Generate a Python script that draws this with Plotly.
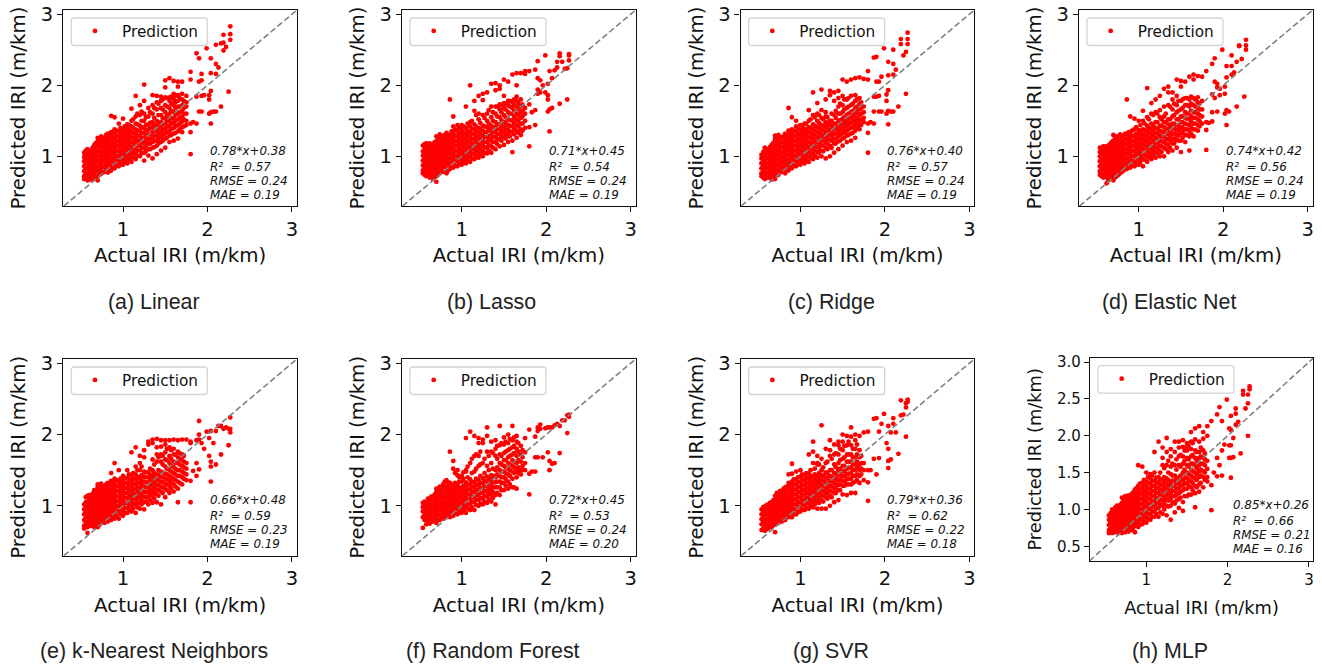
import plotly.graph_objects as go

# Actual IRI values (m/km), one entry per column of the scatter
actual = [0.54,0.58,0.62,0.66,0.70,0.74,0.78,0.82,0.86,0.90,0.95,1.00,1.05,1.10,1.15,1.20,1.25,1.30,1.35,1.40,1.45,1.50,1.55,1.60,1.65,1.70,1.75,
          1.80,1.83,1.87,1.90,1.93,1.96,1.99,2.02,2.04,2.07,2.10,2.13,2.16,2.19,2.22,2.25,2.27]
actual_dense = [0.56,0.60,0.64,0.68,0.72,0.76,0.80,0.84,0.88,0.92,0.97,1.02,1.07,1.12,1.17,1.22,1.27,1.32,1.37,1.42,1.47,1.52,1.57,1.62,1.67,1.72]

pred_linear = [
 [.68,.72,.79,.86,.93,.99,1.05],[.66,.70,.76,.83,.90,.97,1.04,1.10],[.67,.73,.80,.87,.94,1.01,1.08],[.68,.75,.82,.89,.96,1.03,1.10,1.16],
 [.66,.72,.79,.86,.93,1.00,1.07,1.14,1.21,1.26],[.75,.82,.89,.96,1.03,1.10,1.17,1.24,1.28],[.78,.85,.92,.99,1.06,1.13,1.20,1.26],[.77,.83,.90,.97,1.04,1.11,1.18,1.25,1.32],
 [.80,.87,.94,1.01,1.08,1.15,1.22,1.29,1.34,1.57],[.83,.90,.97,1.04,1.11,1.18,1.25,1.32,1.38,1.55],[.86,.93,1.00,1.07,1.14,1.21,1.28,1.35,1.46],[.88,.95,1.02,1.09,1.16,1.23,1.30,1.37,1.53],
 [.90,.97,1.04,1.11,1.18,1.25,1.32,1.39,1.45],[.92,.99,1.06,1.13,1.20,1.27,1.34,1.42,1.50,1.67],[.96,1.03,1.10,1.17,1.24,1.31,1.38,1.46,1.56,1.85],[1.00,1.08,1.15,1.22,1.29,1.36,1.43,1.58,1.72],
 [.94,1.05,1.12,1.19,1.26,1.33,1.40,1.50,1.60,2.01,1.78],[1.01,1.10,1.17,1.24,1.31,1.38,1.45,1.56,1.68],[.97,1.12,1.20,1.27,1.34,1.41,1.48,1.60,1.86,1.72],[1.03,1.15,1.22,1.29,1.36,1.43,1.50,1.66,1.76,1.85],
 [1.08,1.20,1.27,1.34,1.41,1.48,1.58,1.68,1.78,1.84],[1.12,1.25,1.32,1.39,1.46,1.53,1.62,1.72,1.83,2.07,1.97],[1.20,1.29,1.36,1.43,1.50,1.60,1.68,1.78,1.83,2.10],[1.22,1.32,1.40,1.47,1.54,1.62,1.72,1.80,1.88,2.06],
 [1.25,1.35,1.44,1.52,1.60,1.70,1.78,1.86,2.05,1.98],[1.34,1.41,1.49,1.56,1.64,1.72,1.80,1.88,2.05],[1.44,1.50,1.60,1.70,1.76,1.85],
 [1.03,1.34,1.46,2.08,2.19],[1.48],[1.46,1.84,2.45],[1.63,2.05,2.38],[1.63,1.85,2.07,2.16],[1.86],[2.52],[1.60,1.80,1.86],[1.46,1.62,1.92,2.17,2.38],[1.63],[1.63,2.16,2.30,2.57],[2.25],[1.70,2.59],[2.49,2.60,2.71],[2.54],[1.91],[2.64,2.72,2.83]]
dense_linear = [
 [.70,.75,.83,.90,.96,1.02,1.08],[.68,.73,.79,.85,.92,.99,1.06],[.71,.77,.84,.91,.98,1.05,1.12],[.72,.79,.85,.92,.99,1.06,1.13,1.19],[.74,.80,.87,.94,1.01,1.08,1.15,1.22],[.77,.85,.92,.98,1.05,1.12,1.19,1.26],
 [.81,.88,.95,1.02,1.09,1.16,1.23,1.30],[.79,.86,.93,1.00,1.07,1.14,1.21,1.28],[.84,.91,.98,1.05,1.12,1.19,1.26,1.33],[.87,.94,1.01,1.08,1.15,1.22,1.29,1.36],[.90,.97,1.04,1.11,1.18,1.25,1.32,1.40],[.93,1.00,1.07,1.14,1.21,1.28,1.35,1.42],
 [.95,1.02,1.09,1.16,1.23,1.30,1.37,1.44],[.98,1.05,1.12,1.19,1.26,1.33,1.40,1.52],[1.01,1.08,1.15,1.22,1.29,1.36,1.45,1.60],[1.04,1.12,1.19,1.26,1.33,1.41,1.50,1.63],[1.07,1.15,1.22,1.29,1.36,1.44,1.55],[1.10,1.18,1.25,1.32,1.40,1.47,1.62],
 [1.13,1.22,1.29,1.36,1.44,1.54,1.68],[1.18,1.25,1.32,1.39,1.47,1.58,1.74],[1.22,1.30,1.37,1.45,1.54,1.66,1.80],[1.26,1.34,1.42,1.50,1.57,1.70,1.82],[1.30,1.38,1.46,1.53,1.64,1.74,1.84],[1.33,1.42,1.50,1.58,1.68,1.76,1.85],[1.38,1.46,1.54,1.62,1.70,1.82],[1.42,1.52,1.60,1.68,1.78]]

pred_lasso = [
 [.76,.80,.87,.94,1.01,1.07,1.15],[.72,.78,.85,.92,.99,1.06,1.13,1.18],[.70,.77,.84,.91,.98,1.05,1.12,1.18],[.68,.75,.82,.89,.96,1.03,1.10,1.17],
 [.64,.72,.79,.86,.93,1.00,1.07,1.14,1.21,1.28],[.76,.83,.90,.97,1.04,1.11,1.18,1.25,1.31],[.78,.85,.92,.99,1.06,1.13,1.20,1.27],[.76,.84,.91,.98,1.05,1.12,1.19,1.26,1.33],
 [.82,.89,.96,1.03,1.10,1.17,1.24,1.30,1.80],[.84,.91,.98,1.05,1.12,1.19,1.26,1.33,1.42,1.56],[.86,.93,1.00,1.07,1.14,1.21,1.28,1.35,1.44],[.88,.95,1.02,1.09,1.16,1.23,1.30,1.37,1.44],
 [.90,.97,1.04,1.11,1.18,1.25,1.32,1.40,1.70],[.92,.99,1.06,1.13,1.20,1.27,1.34,1.42,1.48,2.00],[.96,1.03,1.10,1.17,1.24,1.31,1.38,1.45,1.64,1.78],[.98,1.05,1.12,1.19,1.26,1.33,1.40,1.52,1.60,1.85],
 [1.00,1.08,1.15,1.22,1.29,1.36,1.43,1.58,1.79,1.88],[1.04,1.12,1.20,1.27,1.34,1.41,1.50,1.60,1.90],[1.05,1.14,1.22,1.29,1.36,1.43,1.55,1.70,2.02],[1.10,1.20,1.27,1.34,1.41,1.48,1.60,1.70,1.93,2.03],
 [1.14,1.24,1.31,1.38,1.45,1.55,1.66,1.73,1.95,2.00],[1.16,1.27,1.34,1.41,1.48,1.58,1.68,1.75,1.85,2.08],[1.20,1.30,1.37,1.44,1.52,1.62,1.72,1.78,2.05],[1.06,1.22,1.34,1.42,1.50,1.60,1.68,1.76,2.15],
 [1.26,1.36,1.44,1.52,1.60,1.70,1.78,1.84,2.00,2.17],[1.30,1.38,1.46,1.54,1.62,1.70,1.80,2.17],[1.40,1.50,1.60,1.68,2.16,2.20],
 [1.14,1.41,1.73,2.20],[1.62],[1.44,1.65,2.22],[1.88,1.94,2.10,2.34],[1.90,2.07],[2.00],[2.42,1.90],[1.63,1.80,1.86,2.02],[1.35,1.66,2.20],[1.68,2.10],[2.21],[2.25,2.33],[1.74,2.45,2.41],[2.33],[2.23],[1.80,2.24],[2.35,2.42,2.44]]
dense_lasso = [
 [.74,.83,.90,.97,1.04,1.10,1.17],[.75,.81,.88,.95,1.02,1.09,1.16],[.73,.80,.87,.94,1.01,1.08,1.15],[.71,.78,.85,.92,.99,1.06,1.13,1.20],[.74,.81,.88,.95,1.02,1.09,1.16,1.24],[.80,.87,.94,1.01,1.08,1.15,1.22,1.29],
 [.78,.87,.94,1.01,1.08,1.15,1.22,1.30],[.80,.88,.95,1.02,1.09,1.16,1.23,1.29],[.85,.92,.99,1.06,1.13,1.20,1.27,1.35],[.87,.94,1.01,1.08,1.15,1.22,1.29,1.38],[.90,.97,1.04,1.11,1.18,1.25,1.32,1.40],[.92,.99,1.06,1.13,1.20,1.27,1.34,1.42],
 [.94,1.01,1.08,1.15,1.22,1.29,1.36,1.46],[.97,1.04,1.11,1.18,1.25,1.32,1.39,1.50],[1.00,1.07,1.14,1.21,1.28,1.35,1.42,1.58],[1.03,1.10,1.17,1.24,1.31,1.38,1.47],[1.05,1.13,1.20,1.27,1.34,1.42,1.54],[1.08,1.16,1.24,1.31,1.38,1.46,1.65],
 [1.12,1.20,1.27,1.34,1.41,1.50,1.62],[1.17,1.24,1.31,1.38,1.45,1.56,1.70],[1.22,1.29,1.36,1.43,1.51,1.62,1.72],[1.25,1.32,1.39,1.47,1.55,1.66,1.74],[1.28,1.35,1.43,1.51,1.60,1.70,1.78],[1.31,1.39,1.47,1.55,1.64,1.72,1.80],[1.33,1.42,1.50,1.58,1.66,1.75],[1.36,1.46,1.56,1.64,1.73]]

pred_ridge = [
 [.72,.76,.83,.90,.97,1.02],[.68,.74,.81,.88,.95,1.02,1.09,1.12],[.70,.76,.83,.90,.97,1.04,1.10],[.67,.74,.81,.88,.95,1.02,1.09,1.16],
 [.68,.75,.82,.89,.96,1.03,1.10,1.17,1.24,1.29],[.74,.81,.88,.95,1.02,1.09,1.16,1.23,1.30],[.78,.85,.92,.99,1.06,1.13,1.20,1.27],[.76,.83,.90,.97,1.04,1.11,1.18,1.25,1.32],
 [.80,.87,.94,1.01,1.08,1.15,1.22,1.29,1.36,1.68],[.83,.90,.97,1.04,1.11,1.18,1.25,1.32,1.38,1.55],[.86,.93,1.00,1.07,1.14,1.21,1.28,1.35,1.42,1.50],[.88,.95,1.02,1.09,1.16,1.23,1.30,1.37,1.44],
 [.90,.97,1.04,1.11,1.18,1.25,1.32,1.39,1.46],[.92,.99,1.06,1.13,1.20,1.27,1.34,1.41,1.50,1.65],[.96,1.03,1.10,1.17,1.24,1.31,1.38,1.45,1.58,1.90],[.98,1.06,1.13,1.20,1.27,1.34,1.41,1.50,1.60,1.75],
 [1.00,1.08,1.16,1.23,1.30,1.37,1.44,1.54,1.65,1.94],[.97,1.12,1.20,1.27,1.34,1.41,1.48,1.56,1.62,1.80],[1.00,1.15,1.23,1.30,1.37,1.44,1.50,1.86,1.92],[1.05,1.18,1.25,1.32,1.39,1.46,1.58,1.78,1.90],
 [1.10,1.21,1.28,1.35,1.42,1.49,1.60,1.70,1.82,1.92],[1.15,1.25,1.32,1.39,1.46,1.53,1.62,1.72,1.85,2.08],[1.20,1.29,1.36,1.43,1.50,1.58,1.68,1.80,2.05],[1.22,1.32,1.40,1.47,1.54,1.62,1.72,1.85,2.08],
 [1.26,1.36,1.44,1.52,1.60,1.68,1.78,1.86,2.10],[1.38,1.44,1.50,1.58,1.66,1.74,1.82,2.11],[1.48,1.54,1.62,1.70,2.09],
 [1.05,1.33,1.46,2.08,2.20],[1.48],[1.46,1.63,1.84,2.39],[2.40,1.84,2.05],[1.63,1.85,2.05],[1.63,2.12],[2.52],[1.60,1.78,1.87],[1.45,1.64,1.93,2.14,2.33],[1.63],[1.63,2.15,2.30,2.50],[2.22],[1.70],[2.58,2.65],[2.42],[1.88,2.47],[2.58,2.65,2.74]]
dense_ridge = [
 [.70,.79,.86,.93,1.00,1.06],[.70,.77,.84,.91,.98,1.05,1.10],[.72,.79,.86,.93,1.00,1.07,1.13],[.71,.78,.85,.92,.99,1.06,1.13,1.19],[.73,.80,.87,.94,1.01,1.08,1.15,1.22,1.27],[.77,.84,.91,.98,1.05,1.12,1.19,1.26],
 [.79,.86,.93,1.00,1.07,1.14,1.21,1.28],[.81,.88,.95,1.02,1.09,1.16,1.23,1.30],[.84,.91,.98,1.05,1.12,1.19,1.26,1.33],[.87,.94,1.01,1.08,1.15,1.22,1.29,1.36],[.90,.97,1.04,1.11,1.18,1.25,1.32,1.39],[.93,1.00,1.07,1.14,1.21,1.28,1.35,1.43],
 [.95,1.02,1.09,1.16,1.23,1.30,1.37,1.46],[.98,1.05,1.12,1.19,1.26,1.33,1.40,1.52],[1.01,1.08,1.15,1.22,1.29,1.36,1.43,1.55],[1.05,1.12,1.19,1.26,1.33,1.40,1.47,1.58],[1.07,1.15,1.22,1.29,1.36,1.43,1.52],[1.10,1.18,1.25,1.32,1.39,1.46,1.55],
 [1.12,1.22,1.29,1.36,1.43,1.50,1.60],[1.18,1.25,1.32,1.39,1.46,1.54,1.64],[1.22,1.30,1.37,1.44,1.51,1.60,1.74],[1.26,1.34,1.41,1.48,1.55,1.66,1.80],[1.30,1.38,1.45,1.52,1.60,1.70,1.82],[1.33,1.41,1.49,1.56,1.64,1.74],[1.40,1.47,1.54,1.62,1.70,1.80],[1.44,1.52,1.60,1.68,1.76]]

pred_elastic = [
 [.74,.79,.86,.93,1.00,1.06,1.12],[.70,.76,.83,.90,.97,1.04,1.10,1.14],[.62,.70,.77,.84,.91,.98,1.05,1.12],[.68,.75,.82,.89,.96,1.03,1.10,1.17],
 [.66,.73,.80,.87,.94,1.01,1.08,1.15,1.22,1.30],[.72,.79,.86,.93,1.00,1.07,1.14,1.21,1.28],[.76,.83,.90,.97,1.04,1.11,1.18,1.25,1.31],[.80,.87,.94,1.01,1.08,1.15,1.22,1.29],
 [.82,.89,.96,1.03,1.10,1.17,1.24,1.31,1.80],[.84,.91,.98,1.05,1.12,1.19,1.26,1.33,1.56],[.86,.93,1.00,1.07,1.14,1.21,1.28,1.38,1.53],[.88,.95,1.02,1.09,1.16,1.23,1.30,1.37,1.50],
 [.86,.96,1.03,1.10,1.17,1.24,1.31,1.38,1.50,1.64],[.92,1.00,1.07,1.14,1.21,1.28,1.35,1.43,1.55,1.96],[.96,1.03,1.10,1.17,1.24,1.31,1.38,1.46,1.60,1.75],[.98,1.05,1.12,1.19,1.26,1.33,1.40,1.48,1.62,1.80],
 [1.00,1.08,1.15,1.22,1.29,1.36,1.43,1.55,1.65,1.85],[1.00,1.12,1.20,1.27,1.34,1.41,1.48,1.56,1.70,1.95],[1.06,1.16,1.24,1.31,1.38,1.45,1.52,1.72,1.90,1.98],[1.08,1.18,1.25,1.32,1.39,1.46,1.56,1.66,1.80,1.90],
 [1.12,1.23,1.30,1.37,1.44,1.52,1.62,1.72,1.85,2.08],[1.06,1.22,1.32,1.40,1.48,1.56,1.66,1.78,1.98,2.06],[1.20,1.30,1.38,1.46,1.54,1.62,1.72,1.82,2.05],[1.08,1.28,1.36,1.44,1.52,1.60,1.70,1.80,2.12],
 [1.28,1.38,1.46,1.54,1.62,1.72,1.82,2.08,2.15],[1.36,1.44,1.52,1.60,1.68,1.76,1.83,2.13],[1.46,1.56,1.66,1.78,2.12],
 [1.09,1.37,1.48,2.20],[1.47],[1.49,1.62,1.87,2.30],[1.82,2.05,2.38],[1.63,1.97,2.02],[1.86,1.95],[2.50],[1.60,1.88,1.98],[1.44,1.65,2.11,2.27],[1.63],[2.42,2.27,2.15],[2.18],[1.70,2.33],[2.55,2.56],[2.37],[1.84],[2.50,2.56,2.64]]
dense_elastic = [
 [.72,.82,.89,.96,1.03,1.09],[.73,.80,.87,.94,1.01,1.08,1.14],[.66,.73,.80,.87,.94,1.01,1.08,1.15],[.71,.78,.85,.92,.99,1.06,1.13,1.20],[.70,.77,.84,.91,.98,1.05,1.12,1.19,1.26],[.74,.81,.88,.95,1.02,1.09,1.16,1.24],
 [.78,.85,.92,.99,1.06,1.13,1.20,1.28],[.82,.89,.96,1.03,1.10,1.17,1.24,1.32],[.85,.92,.99,1.06,1.13,1.20,1.27,1.34],[.87,.94,1.01,1.08,1.15,1.22,1.29,1.36],[.90,.97,1.04,1.11,1.18,1.25,1.32,1.41],[.92,.99,1.06,1.13,1.20,1.27,1.34,1.44],
 [.95,1.02,1.09,1.16,1.23,1.30,1.37,1.46],[.98,1.05,1.12,1.19,1.26,1.33,1.40,1.52],[1.01,1.08,1.15,1.22,1.29,1.36,1.43,1.58],[1.04,1.11,1.18,1.25,1.32,1.39,1.48,1.60],[1.06,1.14,1.21,1.28,1.35,1.43,1.52],[1.10,1.18,1.25,1.32,1.39,1.48,1.60],
 [1.12,1.22,1.29,1.36,1.43,1.52,1.70],[1.18,1.25,1.32,1.39,1.46,1.58,1.74],[1.22,1.29,1.36,1.43,1.52,1.64,1.78],[1.26,1.34,1.41,1.48,1.56,1.68,1.80],[1.30,1.38,1.45,1.53,1.60,1.72,1.82],[1.32,1.41,1.49,1.56,1.64,1.74,1.84],[1.38,1.46,1.54,1.62,1.70,1.80],[1.42,1.50,1.58,1.66,1.74]]

pred_knn = [
 [.68,.72,.80,.88,.95,1.02],[.62,.70,.77,.84,.91,.98,1.05,1.14],[.72,.79,.86,.93,1.00,1.07,1.14],[.70,.77,.84,.91,.98,1.05,1.12,1.22],
 [.70,.77,.84,.91,.98,1.05,1.12,1.19,1.26,1.30],[.76,.83,.90,.97,1.04,1.11,1.18,1.25,1.31],[.76,.83,.90,.97,1.04,1.11,1.18,1.25,1.28],[.78,.85,.92,.99,1.06,1.13,1.20,1.27,1.32],
 [.80,.87,.94,1.01,1.08,1.15,1.22,1.29,1.35,1.46],[.82,.89,.96,1.03,1.10,1.17,1.24,1.31,1.38,1.60],[.82,.92,.99,1.06,1.13,1.20,1.27,1.34,1.50],[.86,.93,1.00,1.07,1.14,1.21,1.28,1.35,1.42],
 [.90,.97,1.04,1.11,1.18,1.25,1.32,1.39,1.50],[.92,.99,1.06,1.13,1.20,1.27,1.34,1.41,1.75],[.90,1.02,1.09,1.16,1.23,1.30,1.37,1.44,1.55,1.82],[.96,1.04,1.11,1.18,1.25,1.32,1.39,1.50,1.70,1.60],
 [.95,1.05,1.13,1.20,1.27,1.34,1.41,1.48,1.68,1.78],[1.02,1.12,1.19,1.26,1.33,1.40,1.47,1.90,1.86],[1.04,1.14,1.21,1.28,1.35,1.42,1.50,1.65,1.93,1.88],[1.05,1.16,1.23,1.30,1.37,1.44,1.62,1.72,1.94,1.82],
 [1.02,1.20,1.27,1.34,1.41,1.48,1.62,1.72,1.92,1.83],[1.12,1.24,1.31,1.38,1.45,1.55,1.65,1.75,1.86,1.92],[1.18,1.28,1.35,1.42,1.50,1.60,1.70,1.82,1.92],[1.20,1.30,1.38,1.46,1.54,1.62,1.72,1.80,1.93],
 [1.05,1.24,1.34,1.42,1.50,1.60,1.68,1.76,1.92],[1.30,1.40,1.48,1.56,1.64,1.72,1.93],[1.36,1.44,1.52,1.60,1.93],
 [1.05,1.35,1.88,1.90],[1.49],[1.42,1.60,1.92],[1.51,1.93,2.00,2.19],[1.88],[1.80],[2.04],[1.70,1.95],[1.34,1.55,1.62,2.05],[1.88],[1.58,2.05],[2.12],[1.72,2.12],[2.08],[2.10],[1.85,2.08],[2.03,2.08,2.24]]
dense_knn = [
 [.70,.76,.84,.91,.98,1.05,1.12],[.74,.81,.88,.95,1.02,1.09,1.15],[.75,.82,.89,.96,1.03,1.10,1.17],[.73,.80,.87,.94,1.01,1.08,1.15,1.21],[.73,.80,.87,.94,1.01,1.08,1.15,1.22,1.28],[.79,.86,.93,1.00,1.07,1.14,1.21,1.27],
 [.80,.87,.94,1.01,1.08,1.15,1.22,1.30],[.81,.88,.95,1.02,1.09,1.16,1.23,1.31],[.84,.91,.98,1.05,1.12,1.19,1.26,1.33],[.86,.93,1.00,1.07,1.14,1.21,1.28,1.36],[.88,.96,1.03,1.10,1.17,1.24,1.31,1.38],[.90,.97,1.04,1.11,1.18,1.25,1.32,1.39],
 [.94,1.01,1.08,1.15,1.22,1.29,1.36,1.44],[.96,1.03,1.10,1.17,1.24,1.31,1.38,1.46],[.98,1.05,1.12,1.19,1.26,1.33,1.41,1.50],[1.02,1.08,1.15,1.22,1.29,1.36,1.43,1.55],[1.06,1.12,1.19,1.26,1.33,1.40,1.47],[1.08,1.16,1.23,1.30,1.37,1.44,1.52],
 [1.10,1.18,1.25,1.32,1.39,1.46,1.58],[1.14,1.22,1.29,1.36,1.43,1.50,1.68],[1.18,1.26,1.33,1.40,1.47,1.58,1.70],[1.22,1.30,1.37,1.44,1.52,1.64,1.80],[1.24,1.33,1.40,1.48,1.56,1.66,1.78],[1.27,1.36,1.44,1.52,1.60,1.72],[1.32,1.42,1.50,1.58,1.66,1.74],[1.38,1.46,1.54,1.62,1.70]]

pred_rf = [
 [.69,.84,.92,.98,1.04],[.74,.81,.88,.95,1.02],[.75,.82,.89,.96,1.03,1.10],[.78,.85,.92,.99,1.06,1.13],
 [.76,.84,.91,.98,1.05,1.12,1.19,1.24],[.80,.87,.94,1.01,1.08,1.15,1.22,1.27],[.82,.89,.96,1.03,1.10,1.17,1.24,1.30],[.84,.91,.98,1.05,1.12,1.19,1.26,1.36],
 [.84,.92,.99,1.06,1.13,1.20,1.27,1.32,1.76],[.86,.93,1.00,1.07,1.14,1.21,1.28,1.52,1.63],[.88,.95,1.02,1.09,1.16,1.23,1.30,1.50,1.43],[.90,.97,1.04,1.11,1.18,1.25,1.42,1.34],
 [.90,.98,1.05,1.12,1.19,1.26,1.33,1.50,1.48,1.95],[.94,1.02,1.09,1.16,1.23,1.30,1.37,1.60,2.04],[.94,1.05,1.12,1.19,1.26,1.33,1.48,1.70,1.98],[1.00,1.08,1.15,1.22,1.29,1.36,1.56,1.70,1.88,1.95],
 [1.02,1.10,1.18,1.25,1.32,1.39,1.60,1.88,1.93],[1.04,1.13,1.20,1.27,1.34,1.41,1.56,1.76,2.10,1.98],[1.06,1.15,1.22,1.29,1.36,1.43,1.60,1.76,1.90],[1.02,1.15,1.26,1.33,1.40,1.50,1.70,1.80,1.92],
 [1.15,1.26,1.34,1.42,1.50,1.60,1.72,1.85,2.12],[1.22,1.32,1.40,1.48,1.56,1.64,1.74,1.86,1.96],[1.24,1.34,1.44,1.52,1.60,1.68,1.78,1.88,2.00],[1.26,1.38,1.48,1.56,1.64,1.72,1.82,1.92,2.12],
 [1.24,1.40,1.50,1.60,1.70,1.80,1.90,1.98],[1.44,1.50,1.62,1.72,1.84],[1.50,1.60,1.75,1.95],
 [1.16,1.45,2.07],[1.48],[1.48,1.68,1.97],[1.68,2.05,2.10],[2.14,2.08],[1.68],[2.09],[1.75,2.10],[1.50,1.63,2.10],[1.59,2.10],[1.60,2.13],[2.15],[1.74,2.12],[2.20],[2.20],[2.02,2.27],[2.28,2.25]]
dense_rf = [
 [.80,.87,.94,1.00,1.06],[.78,.84,.91,.98,1.05,1.10],[.79,.86,.93,1.00,1.07,1.13],[.81,.88,.95,1.02,1.09,1.16],[.80,.87,.94,1.01,1.08,1.15,1.22],[.83,.90,.97,1.04,1.11,1.18,1.25],
 [.85,.92,.99,1.06,1.13,1.20,1.27,1.34],[.87,.94,1.01,1.08,1.15,1.22,1.29,1.33],[.89,.96,1.03,1.10,1.17,1.24,1.30],[.89,.97,1.04,1.11,1.18,1.25,1.32,1.46],[.91,.98,1.05,1.12,1.19,1.26,1.34,1.40],[.93,1.00,1.07,1.14,1.21,1.28,1.38,1.47],
 [.96,1.02,1.09,1.16,1.23,1.30,1.40,1.55],[.98,1.06,1.13,1.20,1.27,1.34,1.46,1.66],[1.01,1.09,1.16,1.23,1.30,1.38,1.52,1.72],[1.03,1.11,1.18,1.25,1.32,1.42,1.58,1.76],[1.06,1.14,1.21,1.28,1.35,1.46,1.66],[1.09,1.17,1.24,1.31,1.38,1.50,1.70],
 [1.11,1.19,1.26,1.33,1.42,1.52,1.74],[1.18,1.26,1.34,1.44,1.54,1.66,1.84],[1.22,1.32,1.40,1.48,1.58,1.70,1.88],[1.28,1.38,1.46,1.54,1.64,1.76,1.90],[1.30,1.42,1.50,1.58,1.70,1.80,1.94],[1.26,1.46,1.54,1.62,1.74,1.84,1.96],[1.46,1.54,1.64,1.76,1.88],[1.50,1.56,1.68,1.78]]

pred_svr = [
 [.66,.74,.81,.88,.95],[.65,.71,.78,.85,.92,.99],[.68,.74,.81,.88,.95,1.02],[.70,.77,.84,.91,.98,1.05],
 [.63,.74,.81,.88,.95,1.02,1.09,1.14],[.76,.83,.90,.97,1.04,1.11,1.18],[.78,.85,.92,.99,1.06,1.13,1.20],[.80,.87,.94,1.01,1.08,1.15,1.22,1.26],
 [.84,.91,.98,1.05,1.12,1.19,1.26,1.32,1.44],[.84,.92,.99,1.06,1.13,1.20,1.27,1.34,1.59,1.45],[.88,.95,1.02,1.09,1.16,1.23,1.30,1.37,1.48],[.92,.99,1.06,1.13,1.20,1.27,1.34,1.41,1.50],
 [.94,1.01,1.08,1.15,1.22,1.29,1.36,1.43],[.96,1.03,1.10,1.17,1.24,1.31,1.38,1.72,1.45],[.98,1.05,1.12,1.19,1.26,1.33,1.40,1.60,1.90,1.76],[.96,1.06,1.13,1.20,1.27,1.34,1.41,1.58,1.70,1.60],
 [.96,1.08,1.15,1.22,1.29,1.36,1.43,1.50,1.66,2.13],[.96,1.12,1.19,1.26,1.33,1.40,1.47,1.60,1.80],[1.00,1.14,1.21,1.28,1.35,1.42,1.50,1.70,1.92,1.78],[1.05,1.18,1.25,1.32,1.39,1.46,1.58,1.72,1.86],
 [1.08,1.22,1.29,1.36,1.43,1.50,1.60,1.72,1.85,1.90],[1.16,1.28,1.35,1.42,1.49,1.56,1.66,1.78,1.90,2.00],[1.15,1.30,1.37,1.44,1.52,1.62,1.72,1.85,1.98],[1.18,1.30,1.38,1.46,1.54,1.62,1.72,1.85,2.10,1.97],
 [1.18,1.34,1.42,1.50,1.58,1.68,1.80,1.92,2.00],[1.32,1.42,1.50,1.58,1.68,1.78,1.98],[1.36,1.50,1.60,2.03],
 [1.07,1.33,1.50,2.04],[1.50],[1.66,2.22],[1.44,2.23],[2.04,1.67],[2.15],[2.29],[1.88],[1.53,1.63,1.80,2.12],[1.65,2.03],[2.15,2.23],[2.03],[1.73],[2.27,2.48],[2.28],[1.97,2.38,2.44],[2.46,2.49]]
dense_svr = [
 [.68,.77,.84,.91,.98],[.67,.74,.81,.88,.95,1.01],[.71,.78,.85,.92,.99,1.04],[.73,.80,.87,.94,1.01,1.08],[.77,.84,.91,.98,1.05,1.12,1.18],[.79,.86,.93,1.00,1.07,1.14,1.21],
 [.82,.89,.96,1.03,1.10,1.17,1.24],[.85,.92,.99,1.06,1.13,1.20,1.27],[.87,.94,1.01,1.08,1.15,1.22,1.29],[.88,.95,1.02,1.09,1.16,1.23,1.30,1.37],[.91,.98,1.05,1.12,1.19,1.26,1.33,1.40],[.95,1.02,1.09,1.16,1.23,1.30,1.37,1.44],
 [.97,1.04,1.11,1.18,1.25,1.32,1.39,1.46],[1.00,1.07,1.14,1.21,1.28,1.35,1.42,1.50],[1.02,1.09,1.16,1.23,1.30,1.37,1.44,1.52],[1.04,1.11,1.18,1.25,1.32,1.39,1.46,1.58],[1.06,1.14,1.21,1.28,1.35,1.42,1.54],[1.10,1.18,1.25,1.32,1.39,1.46,1.62],
 [1.12,1.20,1.27,1.34,1.41,1.50,1.66],[1.18,1.24,1.31,1.38,1.45,1.54,1.74],[1.22,1.30,1.37,1.44,1.52,1.64,1.80],[1.28,1.34,1.41,1.48,1.56,1.68,1.84],[1.30,1.38,1.45,1.53,1.62,1.72,1.90],[1.32,1.42,1.50,1.58,1.68,1.80],[1.36,1.44,1.54,1.62,1.72,1.86],[1.44,1.52,1.60,1.70]]

pred_mlp = [
 [.68,.72,.79,.86,.92],[.68,.74,.81,.88,.95,1.00],[.69,.76,.83,.90,.97,1.03],[.68,.75,.82,.89,.96,1.02],
 [.68,.74,.81,.88,.95,1.02,1.09,1.16],[.69,.76,.83,.90,.97,1.04,1.11,1.18],[.70,.77,.84,.91,.98,1.05,1.12,1.19],[.72,.79,.86,.93,1.00,1.07,1.14,1.21],
 [.69,.78,.85,.92,.99,1.06,1.13,1.20,1.27],[.76,.83,.90,.97,1.04,1.11,1.18,1.25,1.60,1.32],[.80,.87,.94,1.01,1.08,1.15,1.22,1.29,1.36,1.58],[.82,.89,.96,1.03,1.10,1.17,1.24,1.31,1.38,1.50],
 [.86,.93,1.00,1.07,1.14,1.21,1.28,1.35,1.42,1.48],[.90,.97,1.04,1.11,1.18,1.25,1.32,1.39,1.78,1.50],[.90,1.02,1.09,1.16,1.23,1.30,1.37,1.44,1.92],[.94,1.05,1.12,1.19,1.26,1.33,1.40,1.60,1.84,1.70],
 [.92,1.05,1.14,1.21,1.28,1.35,1.42,1.60,1.78,1.97],[.86,1.05,1.15,1.22,1.29,1.36,1.48,1.58,1.72,1.82],[.96,1.08,1.18,1.25,1.32,1.39,1.46,1.60,1.92,1.78],[1.02,1.14,1.22,1.29,1.36,1.43,1.60,1.72,1.92,1.84],
 [.98,1.10,1.26,1.33,1.40,1.50,1.62,1.72,1.85,1.94],[1.18,1.28,1.35,1.42,1.50,1.60,1.70,1.80,1.90,1.85],[1.20,1.30,1.38,1.46,1.54,1.62,1.72,1.82,2.05,1.92],[1.03,1.22,1.32,1.42,1.50,1.60,1.70,1.80,1.95,2.10],
 [1.24,1.34,1.44,1.52,1.60,1.70,1.78,1.92,2.13],[1.30,1.44,1.52,1.62,1.70,1.80,1.96,2.05],[1.38,1.44,1.55,1.66,2.13,2.00],
 [.99,1.33,2.20],[1.50],[1.45,1.70,2.29],[2.39,1.60],[1.80,2.20,1.46],[1.88],[2.49],[1.70,1.87,2.10],[1.43,1.70,1.87,2.08,2.27],[1.71,1.97],[2.15,2.30,2.37],[2.19],[1.76],[2.56,2.61],[2.37],[2.00,2.44,2.56],[2.63,2.67]]
dense_mlp = [
 [.70,.75,.82,.89,.95],[.71,.78,.85,.92,.98],[.72,.79,.86,.93,1.00,1.05],[.71,.78,.85,.92,.99,1.06],[.71,.78,.85,.92,.99,1.06,1.13],[.72,.79,.86,.93,1.00,1.07,1.14],
 [.74,.81,.88,.95,1.02,1.09,1.16],[.75,.82,.89,.96,1.03,1.10,1.17,1.23],[.80,.87,.94,1.01,1.08,1.15,1.22,1.29],[.79,.86,.93,1.00,1.07,1.14,1.21,1.28,1.35],[.84,.91,.98,1.05,1.12,1.19,1.26,1.33,1.40],[.87,.94,1.01,1.08,1.15,1.22,1.29,1.36,1.44],
 [.90,.97,1.04,1.11,1.18,1.25,1.32,1.39,1.46],[.94,1.01,1.08,1.15,1.22,1.29,1.36,1.43],[.96,1.06,1.13,1.20,1.27,1.34,1.41,1.50],[1.00,1.09,1.16,1.23,1.30,1.37,1.44,1.56],[1.04,1.12,1.19,1.26,1.33,1.40,1.50,1.66],[1.10,1.18,1.25,1.32,1.39,1.46,1.62],
 [1.12,1.20,1.28,1.35,1.42,1.54,1.68],[1.16,1.24,1.32,1.39,1.46,1.58,1.74],[1.18,1.28,1.36,1.44,1.54,1.66,1.80],[1.20,1.32,1.40,1.48,1.58,1.68,1.86],[1.26,1.36,1.44,1.52,1.62,1.74,1.90],[1.30,1.40,1.48,1.56,1.66,1.78],[1.36,1.46,1.54,1.62,1.72,1.84],[1.40,1.50,1.60,1.68,1.76]]

captions = ["(a) Linear","(b) Lasso","(c) Ridge","(d) Elastic Net","(e) k-Nearest Neighbors","(f) Random Forest","(g) SVR","(h) MLP"]
equations = ["0.78*x+0.38","0.71*x+0.45","0.76*x+0.40","0.74*x+0.42","0.66*x+0.48","0.72*x+0.45","0.79*x+0.36","0.85*x+0.26"]
r2_values = ["0.57","0.54","0.57","0.56","0.59","0.53","0.62","0.66"]
rmse_values = ["0.24","0.24","0.24","0.24","0.23","0.24","0.22","0.21"]
mae_values = ["0.19","0.19","0.19","0.19","0.19","0.20","0.18","0.16"]
predictions = [pred_linear,pred_lasso,pred_ridge,pred_elastic,pred_knn,pred_rf,pred_svr,pred_mlp]
dense = [dense_linear,dense_lasso,dense_ridge,dense_elastic,dense_knn,dense_rf,dense_svr,dense_mlp]

W, H = 1322, 666
MT, MB = 8, 8  # fixed margins, large enough that the legends never push the plot area
boxes = [(63.3,297,10,206),(402,635.7,10,206),(740.6,974.4,10,206),(1079,1312.7,10,206),
         (63.3,297,359,555.7),(402,635.7,359,555.7),(740.7,974.4,359,555.7),(1090,1313,357.7,561)]
caption_pos = [(154,302),(492,302),(831,302),(1169,302),(154,650.6),(493,650.6),(831,650.6),(1170,650.6)]
FONT = "DejaVu Sans"

def px(x):
    return x / W

def py(y):
    return 1 - (y - MT) / (H - MT - MB)

def rounded(x0, y0, x1, y1, r=3):
    a, b, c, d = px(x0), py(y0), px(x1), py(y1)
    rx, ry = r / W, r / (H - MT - MB)
    return (f"M{a+rx},{b} L{c-rx},{b} Q{c},{b} {c},{b-ry} L{c},{d+ry} Q{c},{d} {c-rx},{d} "
            f"L{a+rx},{d} Q{a},{d} {a},{d+ry} L{a},{b-ry} Q{a},{b} {a+rx},{b} Z")

fig = go.Figure()
annotations = []
shapes = []
layout = {}
for i in range(8):
    n = "" if i == 0 else str(i + 1)
    l, r, t, b = boxes[i]
    small = i == 7
    tick = 15 if small else 19.5
    title = 17.8 if small else 19.8
    assert len(predictions[i]) == len(actual), i
    assert len(dense[i]) == len(actual_dense), i
    xs = [a for a, col in zip(actual, predictions[i]) for _ in col] + [a for a, col in zip(actual_dense, dense[i]) for _ in col]
    ys = [v for col in predictions[i] for v in col] + [v for col in dense[i] for v in col]
    fig.add_trace(go.Scatter(x=xs, y=ys, mode="markers", name="Prediction", legend="legend" + n,
                             marker=dict(color="#ff0000", size=4.8, line_width=0),
                             xaxis="x" + n, yaxis="y" + n))
    fig.add_trace(go.Scatter(x=[0.3, 3.06], y=[0.3, 3.06], mode="lines", showlegend=False,
                             line=dict(color="#808080", width=1.6, dash="6px,3px"),
                             xaxis="x" + n, yaxis="y" + n))
    axis = dict(showgrid=False, zeroline=False, showline=True, mirror=True, linecolor="#111", linewidth=1.3,
                ticks="outside", ticklen=5, tickwidth=1.1, tickcolor="#111",
                tickfont=dict(family=FONT, size=tick, color="#111"))
    xr = [0.293, 3.06] if not small else [0.307, 3.05]
    layout["xaxis" + n] = dict(axis, domain=[px(l), px(r)], range=xr, tickvals=[1, 2, 3],
                               anchor="y" + n, title=dict(text="Actual IRI (m/km)", standoff=13 if small else 8.5,
                               font=dict(family=FONT, size=title, color="#111")))
    yvals = [0.5, 1.0, 1.5, 2.0, 2.5, 3.0] if small else [1, 2, 3]
    ytext = ["0.5", "1.0", "1.5", "2.0", "2.5", "3.0"] if small else ["1", "2", "3"]
    layout["yaxis" + n] = dict(axis, domain=[py(b), py(t)], range=[0.30, 3.06], tickvals=yvals, ticktext=ytext,
                               anchor="x" + n, title=dict(text="Predicted IRI (m/km)", standoff=10.5 if small else 9,
                               font=dict(family=FONT, size=title, color="#111")))
    layout["legend" + n] = dict(x=px(l + 4.7), y=py(t + 4.5), xanchor="left", yanchor="top",
                                bgcolor="rgba(0,0,0,0)", borderwidth=0,
                                font=dict(family=FONT, size=15.3, color="#111"),
                                itemwidth=44, tracegroupgap=0)
    shapes.append(dict(type="path", path=rounded(l + 8, t + 8, l + 144, t + 35.5), xref="paper", yref="paper",
                       line=dict(color="#d4d4d4", width=1.3), fillcolor="white", layer="below"))
    lines = ["<i>%s</i>" % equations[i], "<i>R²\u00a0\u00a0= %s</i>" % r2_values[i],
             "<i>RMSE = %s</i>" % rmse_values[i], "<i>MAE = %s</i>" % mae_values[i]]
    tx = l + (144.7 if not small else 140.7)
    for line, dy in zip(lines, (141.4, 157.4, 171.4, 185.4)):
        ty = t + (dy if not small else dy + 5.5)
        annotations.append(dict(x=px(tx), y=py(ty), xref="paper", yref="paper", xanchor="left", yanchor="middle",
                                text=line, showarrow=False, font=dict(family=FONT, size=11.9, color="#111")))
    cx, cy = caption_pos[i]
    annotations.append(dict(x=px(cx), y=py(cy), xref="paper", yref="paper", xanchor="center", yanchor="middle",
                            text=captions[i], showarrow=False,
                            font=dict(family="Liberation Sans", size=21.4, color="#222")))

fig.update_layout(width=W, height=H, margin=dict(l=0, r=0, t=MT, b=MB), autosize=False,
                  paper_bgcolor="white", plot_bgcolor="white", annotations=annotations, shapes=shapes, **layout)
fig.write_html("out.html", post_script="document.body.style.margin='0';document.body.style.overflow='hidden';",
               config={"displayModeBar": False})
